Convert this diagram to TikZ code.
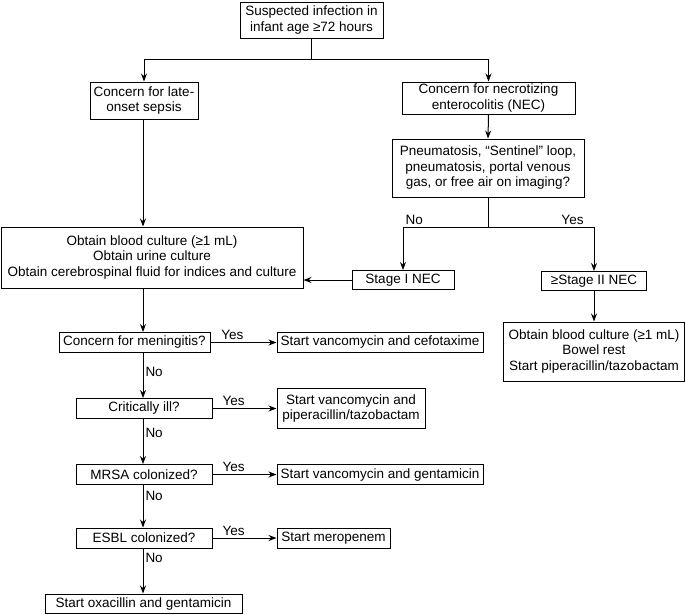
\documentclass[tikz,border=0pt]{standalone}
\usepackage{fontspec}
\setmainfont{Liberation Sans}
\usetikzlibrary{arrows.meta}

\begin{document}
\begin{tikzpicture}[x=1pt,y=-1pt,
  box/.style={draw,line width=1pt,align=center,inner sep=1pt,font=\fontsize{13.5}{15.5}\selectfont},
  arr/.style={line width=1pt,-{Stealth[length=8pt,width=6pt]}},
  lbl/.style={font=\fontsize{13.5}{15.5}\selectfont,inner sep=2pt}]
\useasboundingbox (0,0) rectangle (685,614);

\node[box,minimum width=143pt,minimum height=36pt] (suspect) at (311.5,20) {Suspected infection in\\infant age ≥72 hours};
\node[box,minimum width=108pt,minimum height=37pt] (sepsis) at (144,100.5) {Concern for late-\\onset sepsis};
\node[box,minimum width=173pt,minimum height=32pt] (nec) at (488.5,98) {Concern for necrotizing\\enterocolitis (NEC)};
\node[box,minimum width=192pt,minimum height=58pt] (imaging) at (488,168) {Pneumatosis, “Sentinel” loop,\\pneumatosis, portal venous\\gas, or free air on imaging?};
\node[box,minimum width=302pt,minimum height=61pt] (cultures) at (152,257.5) {Obtain blood culture (≥1 mL)\\Obtain urine culture\\Obtain cerebrospinal fluid for indices and culture};
\node[box,minimum width=102pt,minimum height=19pt] (stageI) at (403,280) {Stage I NEC};
\node[box,minimum width=105pt,minimum height=19pt] (stageII) at (594,281) {≥Stage II NEC};
\node[box,minimum width=181pt,minimum height=59pt] (necrx) at (594,351.5) {Obtain blood culture (≥1 mL)\\Bowel rest\\Start piperacillin/tazobactam};

\node[box,minimum width=151pt,minimum height=20pt] (mening) at (134.5,342.5) {Concern for meningitis?};
\node[box,minimum width=206pt,minimum height=20pt] (meningrx) at (380,342.5) {Start vancomycin and cefotaxime};
\node[box,minimum width=136pt,minimum height=20pt] (ill) at (144,408.5) {Critically ill?};
\node[box,minimum width=148pt,minimum height=40pt] (illrx) at (351,408.5) {Start vancomycin and\\piperacillin/tazobactam};
\node[box,minimum width=136pt,minimum height=20pt] (mrsa) at (144,474.5) {MRSA colonized?};
\node[box,minimum width=206pt,minimum height=20pt] (mrsarx) at (380,474.5) {Start vancomycin and gentamicin};
\node[box,minimum width=136pt,minimum height=20pt] (esbl) at (144,538) {ESBL colonized?};
\node[box,minimum width=113pt,minimum height=20pt] (esblrx) at (333.5,538) {Start meropenem};
\node[box,minimum width=197pt,minimum height=19pt] (oxa) at (143.5,603.5) {Start oxacillin and gentamicin};

\coordinate (split) at (311.5,59);
\coordinate (fork) at (488,227);
\coordinate (spine) at (143,0);

\draw[line width=1pt] (suspect.south) -- (split);
\draw[arr] (split) -| (sepsis.north);
\draw[arr] (split) -| (nec.north);
\draw[arr] (nec.south) -- (imaging.north);
\draw[arr] (spine |- sepsis.south) -- (spine |- cultures.north);

\draw[line width=1pt] (imaging.south) -- (fork);
\draw[arr] (fork) -| node[lbl,pos=0.5,anchor=south west] {No} (stageI.north);
\draw[arr] (fork) -| node[lbl,pos=0.5,anchor=south east,xshift=-8pt] {Yes} (stageII.north);
\draw[arr] (stageI.west) -- (stageI.west -| cultures.east);
\draw[arr] (stageII.south) -- (stageII.south |- necrx.north);

\draw[arr] (spine |- cultures.south) -- (spine |- mening.north);
\draw[arr] (mening.east) -- node[lbl,pos=0.33,above] {Yes} (meningrx.west);
\draw[arr] (spine |- mening.south) -- node[lbl,pos=0.43,right] {No} (spine |- ill.north);
\draw[arr] (ill.east) -- node[lbl,pos=0.33,above] {Yes} (illrx.west);
\draw[arr] (spine |- ill.south) -- node[lbl,pos=0.32,right] {No} (spine |- mrsa.north);
\draw[arr] (mrsa.east) -- node[lbl,pos=0.33,above] {Yes} (mrsarx.west);
\draw[arr] (spine |- mrsa.south) -- node[lbl,pos=0.25,right] {No} (spine |- esbl.north);
\draw[arr] (esbl.east) -- node[lbl,pos=0.33,above] {Yes} (esblrx.west);
\draw[arr] (spine |- esbl.south) -- node[lbl,pos=0.22,right] {No} (spine |- oxa.north);

\end{tikzpicture}
\end{document}
